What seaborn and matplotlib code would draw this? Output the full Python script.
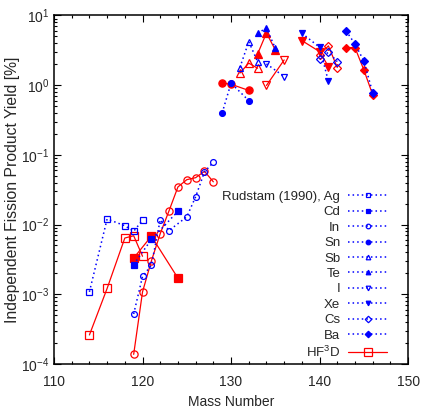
import matplotlib
matplotlib.use("Agg")
import matplotlib.pyplot as plt
import seaborn as sns
from matplotlib.ticker import MultipleLocator, LogLocator, NullFormatter
from matplotlib.lines import Line2D

# Rudstam (1990) measured yields [%]
ag_a = [114, 116, 118, 119, 120]
ag_y = [1.08e-3, 1.2e-2, 9.6e-3, 8.0e-3, 1.15e-2]
cd_a = [119, 121, 124]
cd_y = [2.66e-3, 6.1e-3, 1.55e-2]
in_a = [119, 120, 121, 122, 123, 125, 126, 127, 128]
in_y = [5.2e-4, 1.8e-3, 2.6e-3, 1.17e-2, 8.2e-3, 1.29e-2, 2.5e-2, 5.7e-2, 7.8e-2]
sn_a = [129, 130, 132]
sn_y = [0.40, 1.07, 0.60]
sb_a = [131, 132, 133]
sb_y = [1.79, 4.2, 2.18]
te_a = [133, 134, 135]
te_y = [5.56, 6.6, 3.39]
i_a = [134, 136]
i_y = [2.02, 1.33]
xe_a = [138, 140, 141]
xe_y = [5.56, 3.5, 1.13]
cs_a = [140, 141, 142]
cs_y = [2.36, 2.97, 2.18]
ba_a = [143, 144, 145, 146]
ba_y = [6.0, 3.9, 2.23, 0.78]

# HF3D calculation
hf_ag_y = [2.6e-4, 1.21e-3, 6.4e-3, 6.9e-3, 3.5e-3]
hf_cd_y = [3.3e-3, 6.8e-3, 1.7e-3]
hf_in_a = [119, 120, 121, 122, 123, 124, 125, 126, 127, 128]
hf_in_y = [1.37e-4, 1.08e-3, 3.0e-3, 7.4e-3, 1.58e-2, 3.46e-2, 4.4e-2, 4.7e-2, 5.8e-2, 4.1e-2]
hf_sn_y = [1.07, 1.03, 0.84]
hf_sb_y = [1.49, 2.07, 1.75]
hf_te_y = [2.8, 5.6, 3.2]
hf_i_y = [0.99, 2.3]
hf_xe_y = [4.36, 3.03, 1.85]
hf_cs_y = [2.72, 3.66, 1.79]
hf_ba_y = [3.46, 3.46, 1.66, 0.73]

elements = ["Ag", "Cd", "In", "Sn", "Sb", "Te", "I", "Xe", "Cs", "Ba"]
# marker, filled?
styles = [("s", False), ("s", True), ("o", False), ("o", True), ("^", False),
          ("^", True), ("v", False), ("v", True), ("D", False), ("D", True)]
exp = [(ag_a, ag_y), (cd_a, cd_y), (in_a, in_y), (sn_a, sn_y), (sb_a, sb_y),
       (te_a, te_y), (i_a, i_y), (xe_a, xe_y), (cs_a, cs_y), (ba_a, ba_y)]
calc = [(ag_a, hf_ag_y), (cd_a, hf_cd_y), (hf_in_a, hf_in_y), (sn_a, hf_sn_y),
        (sb_a, hf_sb_y), (te_a, hf_te_y), (i_a, hf_i_y), (xe_a, hf_xe_y),
        (cs_a, hf_cs_y), (ba_a, hf_ba_y)]

sns.set_style("ticks")
plt.rcParams["font.family"] = ["Liberation Sans", "DejaVu Sans"]
plt.rcParams["mathtext.fontset"] = "custom"
plt.rcParams["mathtext.rm"] = "Liberation Sans"

BLUE = "#0000ff"
RED = "#ff0000"
dots = (0, (1, 2))

fig, ax = plt.subplots(figsize=(4.22, 4.07), dpi=100)
fig.subplots_adjust(left=0.128, right=0.967, top=0.962, bottom=0.106)

for (m, filled), (a, y) in zip(styles, calc):
    ms = 5.2 if m != "D" else 4.2
    sns.lineplot(x=a, y=y, ax=ax, color=RED, lw=0.9, marker=m, markersize=ms,
                 markerfacecolor=RED if filled else "none", markeredgecolor=RED,
                 markeredgewidth=0.9, estimator=None, sort=False, legend=False)

for (m, filled), (a, y) in zip(styles, exp):
    ms = 4.2 if m not in ("D", "^", "v") else 3.7
    sns.lineplot(x=a, y=y, ax=ax, color=BLUE, lw=1.1, linestyle=dots, marker=m,
                 markersize=ms, markerfacecolor=BLUE if filled else "none",
                 markeredgecolor=BLUE, markeredgewidth=0.9, estimator=None,
                 sort=False, legend=False)

ax.set_yscale("log")
ax.set_xlim(110, 150)
ax.set_ylim(1e-4, 10)
ax.xaxis.set_major_locator(MultipleLocator(10))
ax.xaxis.set_minor_locator(MultipleLocator(2))
ax.yaxis.set_major_locator(LogLocator(base=10, numticks=10))
ax.yaxis.set_minor_locator(LogLocator(base=10, subs=range(2, 10), numticks=20))
ax.yaxis.set_minor_formatter(NullFormatter())
ax.tick_params(which="both", direction="in", top=True, right=True, labelsize=10,
               color="black")
ax.tick_params(which="major", length=5, width=0.8)
ax.tick_params(axis="x", which="major", pad=8)
ax.tick_params(axis="y", which="major", pad=3.5)
ax.tick_params(which="minor", length=2.5, width=0.8)
for sp in ax.spines.values():
    sp.set_linewidth(1.1)
    sp.set_color("black")

ax.set_xlabel("Mass Number", fontsize=10, labelpad=4)
ax.set_ylabel("Independent Fission Product Yield [%]", fontsize=11.3)
ax.yaxis.set_label_coords(-0.097, 0.5)

handles = []
labels = []
for name, (m, filled) in zip(elements, styles):
    handles.append(Line2D([], [], color=BLUE, lw=1.1, ls=dots, marker=m,
                          markersize=3.3, markerfacecolor=BLUE if filled else "none",
                          markeredgecolor=BLUE, markeredgewidth=0.9))
    labels.append("Rudstam (1990), Ag" if name == "Ag" else name)
handles.append(Line2D([], [], color=RED, lw=0.9, marker="s", markersize=5.2,
                      markerfacecolor="none", markeredgecolor=RED,
                      markeredgewidth=0.9))
labels.append("HF$^3$D")

ax.legend(handles, labels, loc="upper right", bbox_to_anchor=(0.941, 0.497),
          frameon=False, markerfirst=False, fontsize=9.5, labelspacing=0.24,
          handlelength=2.95, handletextpad=0.6, borderpad=0, borderaxespad=0,
          numpoints=1)

fig.savefig("out.png", dpi=100)
